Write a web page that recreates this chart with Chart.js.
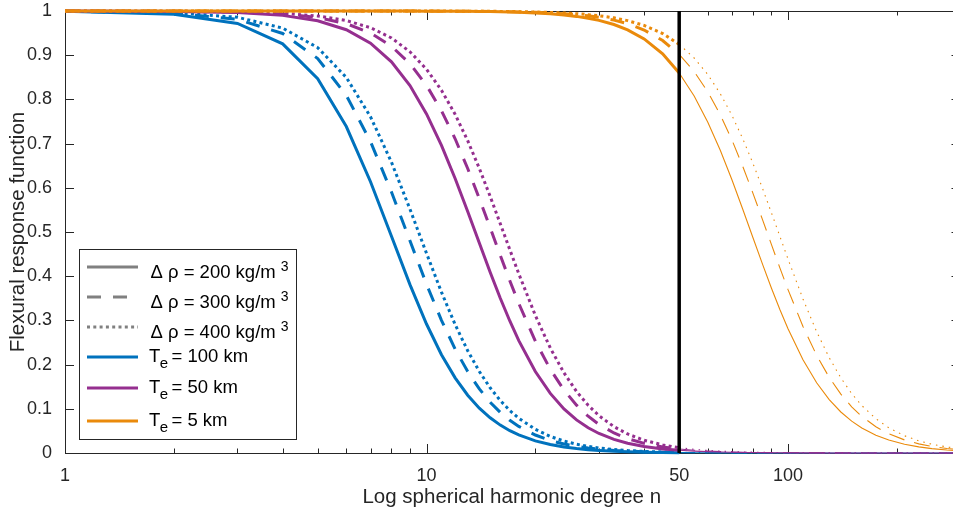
<!DOCTYPE html>
<html>
<head>
<meta charset="utf-8">
<script src="https://cdn.jsdelivr.net/npm/chart.js@4.4.1/dist/chart.umd.min.js"></script>
<style>
  html, body { margin: 0; padding: 0; background: #fff; overflow: hidden; }
  #wrap { width: 975px; height: 513px; }
</style>
</head>
<body>
<div id="wrap"><canvas id="chart" width="975" height="513"></canvas></div>
<script>
// spherical harmonic degrees where the response is sampled
const degrees = [1, 2, 3, 4, 5, 6, 7, 8, 9, 10, 11, 12, 13, 14, 15, 16, 17, 18, 20, 22, 24, 26, 28, 30, 33, 36, 40, 45, 50,
  55, 60, 65, 70, 75, 80, 85, 90, 95, 100, 110, 120, 130, 140, 150, 160, 175, 190, 210, 230, 250, 275, 300];

// Te = 100 km
const te100_rho200 = [0.9992, 0.9928, 0.9719, 0.9257, 0.8470, 0.7386, 0.6138, 0.4902, 0.3809, 0.2918, 0.2224, 0.1700, 0.1308,
  0.1015, 0.0796, 0.0631, 0.0505, 0.0409, 0.0275, 0.0191, 0.0137, 0.0100, 0.0075, 0.0057, 0.0039, 0.0028, 0.0019, 0.0012, 0.0008,
  0.0005, 0.0004, 0.0003, 0.0002, 0.0002, 0.0001, 0.0001, 0.0001, 0.0001, 0.0000, 0, 0, 0, 0, 0, 0, 0, 0, 0, 0, 0, 0, 0];
const te100_rho300 = [0.9995, 0.9952, 0.9811, 0.9492, 0.8926, 0.8091, 0.7045, 0.5905, 0.4800, 0.3819, 0.3003, 0.2350, 0.1842,
  0.1450, 0.1149, 0.0918, 0.0739, 0.0601, 0.0407, 0.0284, 0.0203, 0.0150, 0.0112, 0.0086, 0.0059, 0.0042, 0.0028, 0.0017, 0.0011,
  0.0008, 0.0006, 0.0004, 0.0003, 0.0002, 0.0002, 0.0001, 0.0001, 0.0001, 0.0001, 0, 0, 0, 0, 0, 0, 0, 0, 0, 0, 0, 0, 0];
const te100_rho400 = [0.9996, 0.9964, 0.9858, 0.9614, 0.9172, 0.8496, 0.7607, 0.6579, 0.5517, 0.4517, 0.3639, 0.2906, 0.2313,
  0.1844, 0.1475, 0.1187, 0.0962, 0.0785, 0.0535, 0.0375, 0.0269, 0.0198, 0.0149, 0.0114, 0.0079, 0.0056, 0.0037, 0.0023, 0.0015,
  0.0011, 0.0007, 0.0005, 0.0004, 0.0003, 0.0002, 0.0002, 0.0002, 0.0001, 0.0001, 0.0001, 0.0001, 0, 0, 0, 0, 0, 0, 0, 0, 0, 0, 0];

// Te = 50 km
const te50_rho200 = [0.9999, 0.9991, 0.9964, 0.9901, 0.9779, 0.9576, 0.9271, 0.8850, 0.8312, 0.7672, 0.6959, 0.6210, 0.5463,
  0.4749, 0.4091, 0.3502, 0.2987, 0.2543, 0.1844, 0.1348, 0.0997, 0.0749, 0.0570, 0.0441, 0.0307, 0.0220, 0.0146, 0.0092, 0.0061,
  0.0042, 0.0030, 0.0022, 0.0016, 0.0012, 0.0010, 0.0008, 0.0006, 0.0005, 0.0004, 0.0003, 0.0002, 0.0001, 0.0001, 0.0001, 0.0001,
  0, 0, 0, 0, 0, 0, 0];
const te50_rho300 = [0.9999, 0.9994, 0.9976, 0.9934, 0.9852, 0.9714, 0.9502, 0.9203, 0.8808, 0.8318, 0.7745, 0.7109, 0.6436,
  0.5757, 0.5095, 0.4471, 0.3898, 0.3384, 0.2533, 0.1894, 0.1425, 0.1083, 0.0832, 0.0647, 0.0454, 0.0326, 0.0218, 0.0138, 0.0091,
  0.0063, 0.0045, 0.0032, 0.0024, 0.0018, 0.0014, 0.0011, 0.0009, 0.0007, 0.0006, 0.0004, 0.0003, 0.0002, 0.0002, 0.0001, 0.0001,
  0.0001, 0, 0, 0, 0, 0, 0];
const te50_rho400 = [1.0000, 0.9995, 0.9982, 0.9950, 0.9888, 0.9784, 0.9622, 0.9390, 0.9078, 0.8683, 0.8207, 0.7662, 0.7065,
  0.6439, 0.5806, 0.5187, 0.4600, 0.4054, 0.3113, 0.2375, 0.1814, 0.1393, 0.1079, 0.0844, 0.0596, 0.0430, 0.0288, 0.0183, 0.0121,
  0.0083, 0.0059, 0.0043, 0.0032, 0.0025, 0.0019, 0.0015, 0.0012, 0.0010, 0.0008, 0.0005, 0.0004, 0.0003, 0.0002, 0.0002, 0.0001,
  0.0001, 0.0001, 0, 0, 0, 0, 0];

// Te = 5 km
const te5_rho200 = [1.0000, 1.0000, 1.0000, 1.0000, 1.0000, 1.0000, 0.9999, 0.9999, 0.9998, 0.9997, 0.9996, 0.9994, 0.9992,
  0.9989, 0.9986, 0.9981, 0.9977, 0.9971, 0.9956, 0.9936, 0.9911, 0.9878, 0.9837, 0.9788, 0.9694, 0.9574, 0.9368, 0.9030, 0.8598,
  0.8078, 0.7485, 0.6842, 0.6175, 0.5510, 0.4871, 0.4273, 0.3728, 0.3240, 0.2810, 0.2110, 0.1590, 0.1209, 0.0928, 0.0721, 0.0567,
  0.0403, 0.0294, 0.0199, 0.0139, 0.0100, 0.0069, 0.0049];
const te5_rho300 = [1.0000, 1.0000, 1.0000, 1.0000, 1.0000, 1.0000, 0.9999, 0.9999, 0.9999, 0.9998, 0.9997, 0.9996, 0.9994,
  0.9993, 0.9990, 0.9988, 0.9984, 0.9980, 0.9971, 0.9957, 0.9940, 0.9918, 0.9891, 0.9857, 0.9794, 0.9712, 0.9570, 0.9331, 0.9019,
  0.8631, 0.8170, 0.7647, 0.7077, 0.6480, 0.5875, 0.5281, 0.4714, 0.4183, 0.3696, 0.2863, 0.2210, 0.1710, 0.1331, 0.1044, 0.0827,
  0.0593, 0.0434, 0.0296, 0.0207, 0.0150, 0.0103, 0.0073];
const te5_rho400 = [1.0000, 1.0000, 1.0000, 1.0000, 1.0000, 1.0000, 1.0000, 0.9999, 0.9999, 0.9998, 0.9998, 0.9997, 0.9996,
  0.9994, 0.9993, 0.9991, 0.9988, 0.9985, 0.9978, 0.9968, 0.9955, 0.9939, 0.9918, 0.9893, 0.9845, 0.9782, 0.9674, 0.9490, 0.9246,
  0.8937, 0.8562, 0.8125, 0.7635, 0.7105, 0.6551, 0.5988, 0.5432, 0.4895, 0.4388, 0.3485, 0.2744, 0.2157, 0.1699, 0.1345, 0.1073,
  0.0775, 0.0571, 0.0390, 0.0275, 0.0199, 0.0137, 0.0097];

const xTickValues = [1, 10, 50, 100];
const xMinorTicks = [2, 3, 4, 5, 6, 7, 8, 9, 20, 30, 40, 60, 70, 80, 90, 200, 300];
const yTickValues = [0, 0.1, 0.2, 0.3, 0.4, 0.5, 0.6, 0.7, 0.8, 0.9, 1];
const cutDegree = 50;

const densityLabels = ['200', '300', '400'];
const thicknessLabels = ['100', '50', '5'];

const FONT = '"Liberation Sans", Arial, Helvetica, sans-serif';
const teColors = ['#0072BD', '#952F8F', '#EA8A0B'];
const thickDash = [[], [14, 12], [3, 3.3]];
const thinDash = [[], [16, 10], [1.5, 5]];

function line(values, color, k) {
  return {
    data: degrees.map((n, i) => ({ x: n, y: values[i] })),
    borderColor: color,
    borderWidth: 3,
    borderDash: thickDash[k],
    borderCapStyle: 'butt',
    pointRadius: 0,
    fill: false,
    tension: 0,
    clip: 2,
    segment: {
      borderWidth: ctx => ctx.p0.parsed.x >= cutDegree ? 1.1 : 3,
      borderDash: ctx => ctx.p0.parsed.x >= cutDegree ? thinDash[k] : thickDash[k]
    }
  };
}

// first dataset is drawn on top
const datasets = [
  {
    data: [{ x: cutDegree, y: 0 }, { x: cutDegree, y: 1 }],
    borderColor: '#000', borderWidth: 3.5, pointRadius: 0, borderCapStyle: 'butt'
  },
  line(te5_rho200, teColors[2], 0), line(te5_rho300, teColors[2], 1), line(te5_rho400, teColors[2], 2),
  line(te50_rho200, teColors[1], 0), line(te50_rho300, teColors[1], 1), line(te50_rho400, teColors[1], 2),
  line(te100_rho200, teColors[0], 0), line(te100_rho300, teColors[0], 1), line(te100_rho400, teColors[0], 2)
];

// box and inward ticks, like the MATLAB axes
const frame = {
  id: 'frame',
  beforeDatasetsDraw(chart) {
    const { ctx, chartArea: a, scales: { x, y } } = chart;
    ctx.save();
    ctx.strokeStyle = '#262626';
    ctx.lineWidth = 1;
    ctx.strokeRect(a.left + 0.5, a.top + 0.5, a.right - a.left, a.bottom - a.top);
    ctx.beginPath();
    const tick = (v, len) => {
      const px = Math.round(x.getPixelForValue(v)) + 0.5;
      ctx.moveTo(px, a.bottom); ctx.lineTo(px, a.bottom - len);
      ctx.moveTo(px, a.top); ctx.lineTo(px, a.top + len);
    };
    xTickValues.forEach(v => tick(v, 9));
    xMinorTicks.forEach(v => tick(v, 4.5));
    yTickValues.forEach(v => {
      const py = Math.round(y.getPixelForValue(v)) + 0.5;
      ctx.moveTo(a.left, py); ctx.lineTo(a.left + 9, py);
      ctx.moveTo(a.right, py); ctx.lineTo(a.right - 9, py);
    });
    ctx.stroke();
    ctx.restore();
  },
  afterDraw(chart) {
    const { ctx, chartArea: a } = chart;
    ctx.save();
    ctx.fillStyle = '#262626';
    ctx.font = '20.5px ' + FONT;
    ctx.textAlign = 'center';
    ctx.textBaseline = 'middle';
    ctx.fillText('Log spherical harmonic degree n', (a.left + a.right) / 2 - 1, 497);
    ctx.translate(18, (a.top + a.bottom) / 2);
    ctx.rotate(-Math.PI / 2);
    ctx.fillText('Flexural response function', 0, 0);
    ctx.restore();
  }
};

// legend with TeX style sub/superscripts
const legendRowY = [267, 297, 327, 357, 388, 421];
const texLegend = {
  id: 'texLegend',
  afterDatasetsDraw(chart) {
    const ctx = chart.ctx;
    const rows = densityLabels.map((d, i) => ({ kind: 'rho', label: d, color: '#808080', dash: thickDash[i] }))
      .concat(thicknessLabels.map((t, i) => ({ kind: 'te', label: t, color: teColors[i], dash: [] })));
    ctx.save();
    ctx.fillStyle = '#fff';
    ctx.fillRect(79.5, 249.5, 217, 190);
    ctx.strokeStyle = '#262626';
    ctx.lineWidth = 1;
    ctx.strokeRect(79.5, 249.5, 217, 190);
    rows.forEach((row, i) => {
      const y = legendRowY[i];
      ctx.beginPath();
      ctx.strokeStyle = row.color;
      ctx.lineWidth = 3;
      ctx.lineCap = 'butt';
      ctx.setLineDash(row.dash);
      ctx.moveTo(87, y);
      ctx.lineTo(138, y);
      ctx.stroke();
      ctx.setLineDash([]);
      ctx.fillStyle = '#000';
      ctx.textAlign = 'left';
      ctx.textBaseline = 'alphabetic';
      if (row.kind === 'rho') {
        const base = y + 10.7;
        ctx.font = '18.5px ' + FONT;
        const txt = 'Δ ρ = ' + row.label + ' kg/m';
        ctx.fillText(txt, 150.5, base);
        const w = ctx.measureText(txt).width;
        ctx.font = '14px ' + FONT;
        ctx.fillText('3', 150.5 + w + 5, base - 7);
      } else {
        const base = y + 4.5;
        ctx.font = '18.5px ' + FONT;
        ctx.fillText('T', 149, base);
        const w = ctx.measureText('T').width;
        ctx.font = '15px ' + FONT;
        ctx.fillText('e', 149 + w - 0.5, base + 6);
        ctx.font = '18.5px ' + FONT;
        ctx.fillText('= ' + row.label + ' km', 171.5, base);
      }
    });
    ctx.restore();
  }
};

Chart.defaults.font.family = FONT;

new Chart(document.getElementById('chart'), {
  type: 'line',
  data: { datasets },
  options: {
    responsive: false,
    animation: false,
    devicePixelRatio: 1,
    layout: { padding: { top: 11, right: 14.5, bottom: 0, left: 0 } },
    plugins: { legend: { display: false }, tooltip: { enabled: false } },
    scales: {
      x: {
        type: 'logarithmic',
        min: 1,
        max: 300,
        grid: { display: false },
        border: { display: false },
        afterBuildTicks: s => { s.ticks = xTickValues.map(v => ({ value: v })); },
        afterFit: s => { s.height = 60; s.paddingLeft = 0; s.paddingRight = 0; },
        ticks: {
          autoSkip: false, maxRotation: 0, minRotation: 0,
          padding: 4, color: '#262626', font: { size: 18 },
          callback: v => String(v)
        }
      },
      y: {
        min: 0,
        max: 1,
        grid: { display: false },
        border: { display: false },
        afterBuildTicks: s => { s.ticks = yTickValues.map(v => ({ value: v })); },
        afterFit: s => { s.width = 65; s.paddingTop = 0; s.paddingBottom = 0; },
        ticks: {
          padding: 5, color: '#262626', font: { size: 18 },
          callback: v => String(Math.round(v * 10) / 10)
        }
      }
    }
  },
  plugins: [frame, texLegend]
});
</script>
</body>
</html>
